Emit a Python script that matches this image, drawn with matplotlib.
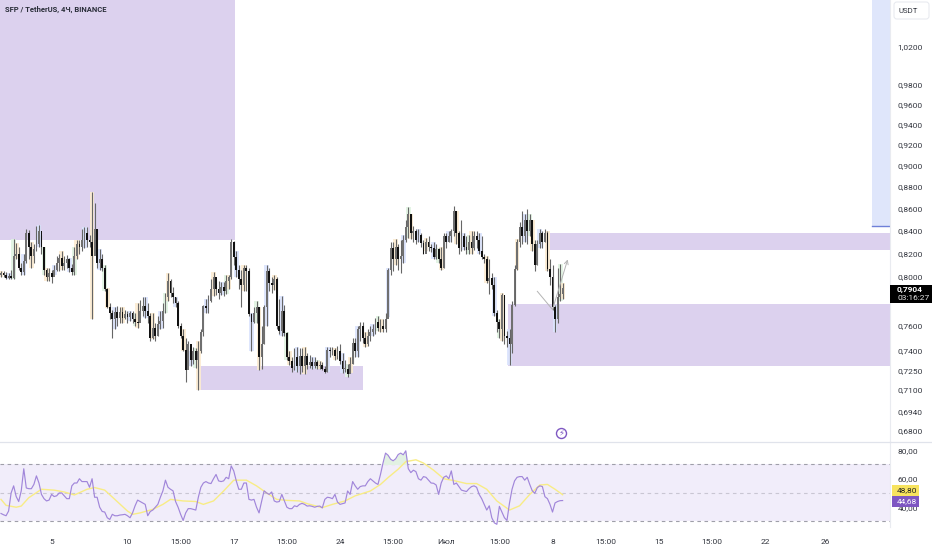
import numpy as np
import matplotlib
matplotlib.use('Agg')
import matplotlib.pyplot as plt
from matplotlib.patches import Rectangle, FancyBboxPatch

plt.rcParams['font.family'] = ['Roboto', 'DejaVu Sans']

# 4h candles
closes = [.803,.802,.799,.801,.799,.818,.820,.808,.804,.814,
          .838,.826,.818,.824,.828,.840,.826,.806,.800,.803,
          .800,.806,.812,.816,.809,.812,.815,.808,.804,.818,
          .828,.826,.832,.838,.832,.830,.818,.842,.812,.815,
          .808,.790,.775,.770,.765,.771,.766,.771,.766,.769,
          .767,.770,.765,.763,.762,.772,.776,.772,.768,.750,
          .758,.752,.761,.764,.772,.783,.797,.787,.783,.778,
          .760,.752,.741,.725,.745,.733,.740,.733,.740,.755,
          .776,.774,.780,.790,.800,.790,.787,.792,.788,.797,
          .800,.830,.817,.806,.798,.793,.808,.805,.769,.763,
          .770,.775,.735,.745,.775,.805,.795,.793,.798,.760,
          .756,.772,.754,.735,.732,.727,.735,.728,.736,.728,
          .736,.729,.731,.728,.731,.728,.729,.726,.724,.741,
          .740,.741,.736,.740,.732,.726,.726,.722,.730,.746,
          .740,.757,.760,.750,.745,.752,.755,.757,.763,.758,
          .760,.757,.765,.806,.825,.815,.826,.815,.818,.832,
          .843,.855,.838,.840,.832,.836,.829,.820,.830,.826,
          .825,.817,.824,.815,.808,.835,.830,.835,.840,.858,
          .838,.825,.835,.826,.823,.830,.825,.835,.832,.822,
          .817,.815,.797,.799,.793,.770,.763,.757,.785,.752,
          .750,.745,.777,.807,.830,.843,.835,.850,.840,.850,
          .828,.810,.828,.838,.830,.838,.807,.800,.775,.765,
          .783,.786,.7904]
highs = [.805,.805,.804,.803,.806,.833,.829,.826,.812,.820,
         .842,.841,.830,.828,.844,.845,.836,.826,.808,.808,
         .806,.810,.818,.820,.822,.818,.819,.816,.811,.826,
         .832,.832,.842,.843,.843,.836,.875,.865,.842,.824,
         .820,.810,.791,.778,.773,.775,.776,.775,.775,.773,
         .772,.772,.772,.770,.778,.781,.783,.783,.778,.770,
         .770,.762,.768,.772,.778,.787,.803,.798,.792,.783,
         .780,.762,.757,.750,.748,.740,.743,.742,.748,.757,
         .777,.782,.785,.798,.804,.798,.797,.796,.796,.802,
         .802,.833,.831,.822,.810,.806,.810,.810,.808,.770,
         .775,.780,.775,.760,.777,.810,.808,.800,.802,.800,
         .782,.784,.777,.755,.740,.735,.742,.743,.742,.742,
         .743,.738,.737,.735,.735,.733,.732,.731,.728,.743,
         .743,.743,.742,.744,.745,.738,.733,.730,.735,.750,
         .750,.760,.763,.763,.755,.757,.760,.761,.766,.768,
         .765,.765,.770,.808,.830,.830,.833,.828,.832,.836,
         .850,.861,.855,.844,.842,.842,.838,.832,.834,.835,
         .828,.830,.828,.825,.826,.838,.838,.840,.842,.862,
         .858,.840,.850,.838,.835,.836,.840,.840,.840,.838,
         .835,.820,.818,.815,.803,.800,.773,.765,.787,.785,
         .756,.757,.780,.810,.833,.848,.858,.855,.860,.855,
         .850,.832,.832,.842,.840,.842,.840,.815,.810,.777,
         .808,.811,.795]
lows = [.800,.800,.798,.798,.798,.798,.815,.806,.802,.802,
        .812,.815,.808,.812,.822,.826,.820,.802,.797,.797,
        .795,.802,.805,.805,.806,.806,.808,.804,.802,.802,
        .815,.820,.822,.825,.826,.826,.765,.826,.808,.806,
        .805,.788,.774,.765,.750,.757,.760,.762,.762,.765,
        .762,.764,.762,.760,.758,.766,.768,.766,.762,.748,
        .749,.748,.752,.757,.758,.770,.780,.783,.778,.775,
        .758,.750,.740,.716,.728,.728,.730,.727,.710,.738,
        .752,.770,.770,.779,.784,.785,.782,.785,.784,.786,
        .790,.798,.810,.800,.790,.775,.788,.788,.768,.740,
        .762,.762,.725,.726,.745,.760,.788,.787,.789,.757,
        .753,.752,.752,.733,.729,.724,.725,.724,.722,.724,
        .722,.726,.727,.726,.727,.726,.726,.725,.723,.724,
        .735,.737,.733,.734,.730,.723,.724,.720,.723,.730,
        .735,.735,.748,.746,.743,.744,.748,.752,.753,.756,
        .755,.755,.755,.767,.802,.805,.810,.806,.803,.812,
        .830,.834,.833,.830,.828,.830,.826,.820,.822,.822,
        .821,.815,.815,.812,.806,.808,.825,.830,.830,.835,
        .828,.820,.822,.823,.820,.820,.820,.823,.825,.820,
        .815,.812,.795,.786,.790,.768,.755,.750,.748,.745,
        .743,.729,.738,.776,.806,.826,.828,.830,.828,.835,
        .822,.805,.810,.825,.825,.830,.805,.793,.773,.755,
        .762,.780,.782]

rsi = [35.6,34.7,34,37.3,50,55,47.5,44,51.5,67,
       53.5,53,53,56,62,57,49,46,44.4,45,
       49,47.5,48,50,50,48,46,46,55,57,
       57,60,58,58,58,54,60,47,47,40,
       37,36.6,32.6,31.4,35,34,34,34.5,34.7,35,
       34,32.6,36,41,45,44,43,42,34,37,
       38,40,42,47,51.5,59,54,52.6,51.5,44,
       40,35,30.7,36,39,39,38.5,38,47,54,
       57,58,57,56.6,60,63,58.5,58,58.5,61,
       60,69,65.5,58.5,52.6,52.6,57,57,45.5,45,
       45.5,40,36,44,51.5,50,49,50.7,44.4,43.6,
       44,49,44.4,40,39,39,41,40.4,42,42.7,
       42,40.8,41,40.6,40,40.6,40.8,39.5,45.5,47,
       46.7,46,49,43.6,42,42.5,43,51.4,49,58,
       55,52.6,54.5,55,55,58,60,58.5,57,56,
       63,71,78,76.5,73.7,72.6,74,77,78,76.8,
       79.6,67,64.3,66,65,60,59,61.5,61,59,
       57,56.8,55.6,49,57,61,62,60,65.5,56,
       57,54.5,52,51.5,51,53,54.5,55,54,49,
       46,42,38,41,32.6,29,28,40.6,36.6,32.6,
       30.7,43,52.6,58.5,61,61.5,61.5,59,61,56,
       51.5,49.8,53.8,55,54.5,47.4,46,42,36.6,43,
       44,44.6,44.68]

# yellow RSI average, read at these bars
ma_bars = [0,2,6,8,11,16,21,25,29,34,37,41,45,50,52,55,60,64,67,72,77,80,84,88,92,97,
           101,105,109,113,118,121,127,131,136,140,146,150,153,157,160,164,167,171,175,
           179,184,188,192,196,201,205,209,213,216,219,222]
ma_vals = [45.5,41.3,40,40.8,46.7,52.6,52,50.7,48.6,52.6,53.8,52,45.5,37.3,35,36,38.5,42,45.5,44.4,44,42,44.4,51.4,59,59,
           55,50,45.5,44.8,44.4,42.5,39.7,42,44.4,48,51.4,56,60.8,66.7,72,73.3,71,66,60,
           58.7,56.6,56.6,52.6,44.4,38,41,49,55.6,56,52.6,48.8]

# zones: left bar, right bar, low price, high price
zone_left = [-1, 78.3, 200.4, 215.4]
zone_right = [92.5, 143, 352, 352]
zone_low = [.8315, .710, .7285, .8235]
zone_high = [1.2, .7285, .7775, .838]
blue_zone = [344.3, 352, .8445, 1.2]

drawn_bars = [212, 218, 224]
drawn_prices = [.788, .773, .815]

price_ticks = [1.02,.98,.96,.94,.92,.90,.88,.86,.84,.82,.80,.76,.74,.725,.71,.694,.68]
time_ticks = [20,50,71,92,113,134,155,176,197,218,239,260,281,302,326]
time_labels = ['5','10','15:00','17','15:00','24','15:00','Июл','15:00','8','15:00','15','15:00','22','26']
rsi_ticks = [40,60,80]

W, H = 932, 550
TXT = '#33363f'
GRID = '#e9ebf0'

fig = plt.figure(figsize=(W/100, H/100), dpi=100, facecolor='white')
ax = fig.add_axes([0, 1-441/H, 890/W, 441/H])
ax2 = fig.add_axes([0, (H-527)/H, 890/W, (527-442)/H])

closes = np.array(closes)
highs = np.array(highs)
lows = np.array(lows)
opens = np.r_[.802, closes[:-1]]
bars = np.arange(len(closes))

# zones
for l, r, lo, hi in zip(zone_left, zone_right, zone_low, zone_high):
    ax.bar(l, hi-lo, r-l, bottom=lo, align='edge', color='#dcd1ee', lw=0, zorder=1)
ax.bar(blue_zone[0], blue_zone[3]-blue_zone[2], blue_zone[1]-blue_zone[0], bottom=blue_zone[2],
       align='edge', color='#dfe6fb', lw=0, zorder=1)
ax.plot(blue_zone[:2], [blue_zone[2]]*2, color='#6f80d8', lw=1, zorder=2)

# session tints behind the candles
for i in bars:
    c = None
    if i % 6 == 0:
        c = '#fcecd2'
    elif i % 6 == 3:
        c = '#dbe4fd'
    elif i % 12 == 5:
        c = '#e0f3e2'
    if c:
        ax.bar(i, highs[i]-lows[i], 1.9, bottom=lows[i], color=c, alpha=.9, lw=0, zorder=2)

# candles
up = closes >= opens
ax.vlines(bars, lows, highs, color='#666666', lw=.8, zorder=3)
ax.bar(bars[up], np.maximum(closes[up]-opens[up], .0008), .72, bottom=opens[up], color='#707070', lw=0, zorder=4)
ax.bar(bars[~up], np.maximum(opens[~up]-closes[~up], .0008), .72, bottom=closes[~up], color='#111111', lw=0, zorder=4)

# hand drawn arrow
ax.plot(drawn_bars[:2], drawn_prices[:2], color='#b4b4b4', lw=.7, zorder=5)
ax.annotate('', xy=(drawn_bars[2], drawn_prices[2]), xytext=(drawn_bars[1], drawn_prices[1]),
            arrowprops=dict(arrowstyle='->', color='#b4b4b4', lw=.7, shrinkA=0, shrinkB=0, mutation_scale=7), zorder=5)

ax.set_yscale('log')
ax.set_xlim(-.395, 351.4)
ax.set_ylim(.6728, 1.0719)
ax.set_xticks([])
ax.yaxis.tick_right()
ax.set_yticks(price_ticks)
ax.set_yticklabels([('%.4f' % p).replace('.', ',') for p in price_ticks])
ax.minorticks_off()
ax.tick_params(axis='y', length=0, pad=5.5, labelsize=6, labelcolor=TXT)
for s in ['top', 'left', 'bottom']:
    ax.spines[s].set_visible(False)
ax.spines['right'].set_color(GRID)
ax.spines['right'].set_linewidth(.8)

fig.text(5/W, 1-9/H, 'SFP / TetherUS, 4Ч, BINANCE', fontsize=5.5, fontweight='bold', color='#2a2e39', va='center')

# event marker
ax.scatter([221.4], [.6784], s=52, facecolor='white', edgecolor='#7e57c2', lw=1, zorder=6)
ax.text(221.4, .6784, '\u26a1', fontsize=6, color='#7e57c2', ha='center', va='center', zorder=7, family='DejaVu Sans')

# RSI pane
ax2.axhspan(30, 70, color='#f1edfa', lw=0, zorder=0)
for lev, col in zip([30, 50, 70], ['#9f9fa9', '#c9c6d3', '#9f9fa9']):
    ax2.axhline(lev, color=col, lw=.8, dashes=(3.2, 3.2), zorder=1)
rsi = np.array(rsi)
ax2.fill_between(bars, 70, rsi, where=rsi > 70, interpolate=True, color='#e2f1e3', lw=0, zorder=1)
ax2.plot(ma_bars, ma_vals, color='#f8ec85', lw=1, zorder=2)
ax2.plot(bars, rsi, color='#a186da', lw=.85, zorder=3)
ax2.set_xlim(-.395, 351.4)
ax2.set_ylim(26.1, 85.8)
ax2.set_xticks(time_ticks)
ax2.set_xticklabels(time_labels)
ax2.yaxis.tick_right()
ax2.set_yticks(rsi_ticks)
ax2.set_yticklabels(['%d,00' % v for v in rsi_ticks])
ax2.tick_params(axis='y', length=0, pad=5.5, labelsize=6, labelcolor=TXT)
ax2.tick_params(axis='x', length=0, pad=9, labelsize=6, labelcolor=TXT)
for s in ['top', 'left', 'bottom']:
    ax2.spines[s].set_visible(False)
ax2.spines['right'].set_color(GRID)
ax2.spines['right'].set_linewidth(.8)

# separator between panes
fig.add_artist(plt.Line2D([0, 1], [1-441.5/H]*2, color='#e0e3eb', lw=.9))

# price scale badges, in pixels
def badge(x, y, w, h, color):
    fig.add_artist(Rectangle((x/W, 1-(y+h)/H), w/W, h/H, color=color, lw=0, zorder=10))

badge(890, 284.5, 42, 18.5, '#000000')
fig.text(897/W, 1-289.5/H, '0,7904', fontsize=6, fontweight='bold', color='white', va='center', zorder=11)
fig.text(897/W, 1-298/H, '03:16:27', fontsize=6, color='#e6e6e6', va='center', zorder=11)
badge(892, 485, 27, 11, '#f7e35e')
fig.text(897/W, 1-490.5/H, '48,80', fontsize=6, color='#222222', va='center', zorder=11)
badge(892, 496, 27, 11, '#7e57c2')
fig.text(897/W, 1-501.5/H, '44,68', fontsize=6, color='white', va='center', zorder=11)

fig.add_artist(FancyBboxPatch((894/W, 1-19/H), 35/W, 17/H, boxstyle='round,pad=0,rounding_size=0.003',
                              fc='white', ec='#e6e8ee', lw=.7, zorder=10, mutation_aspect=W/H))
fig.text(908/W, 1-11/H, 'USDT', fontsize=5.6, color=TXT, ha='center', va='center', zorder=11)

fig.savefig('out.png', dpi=100)
